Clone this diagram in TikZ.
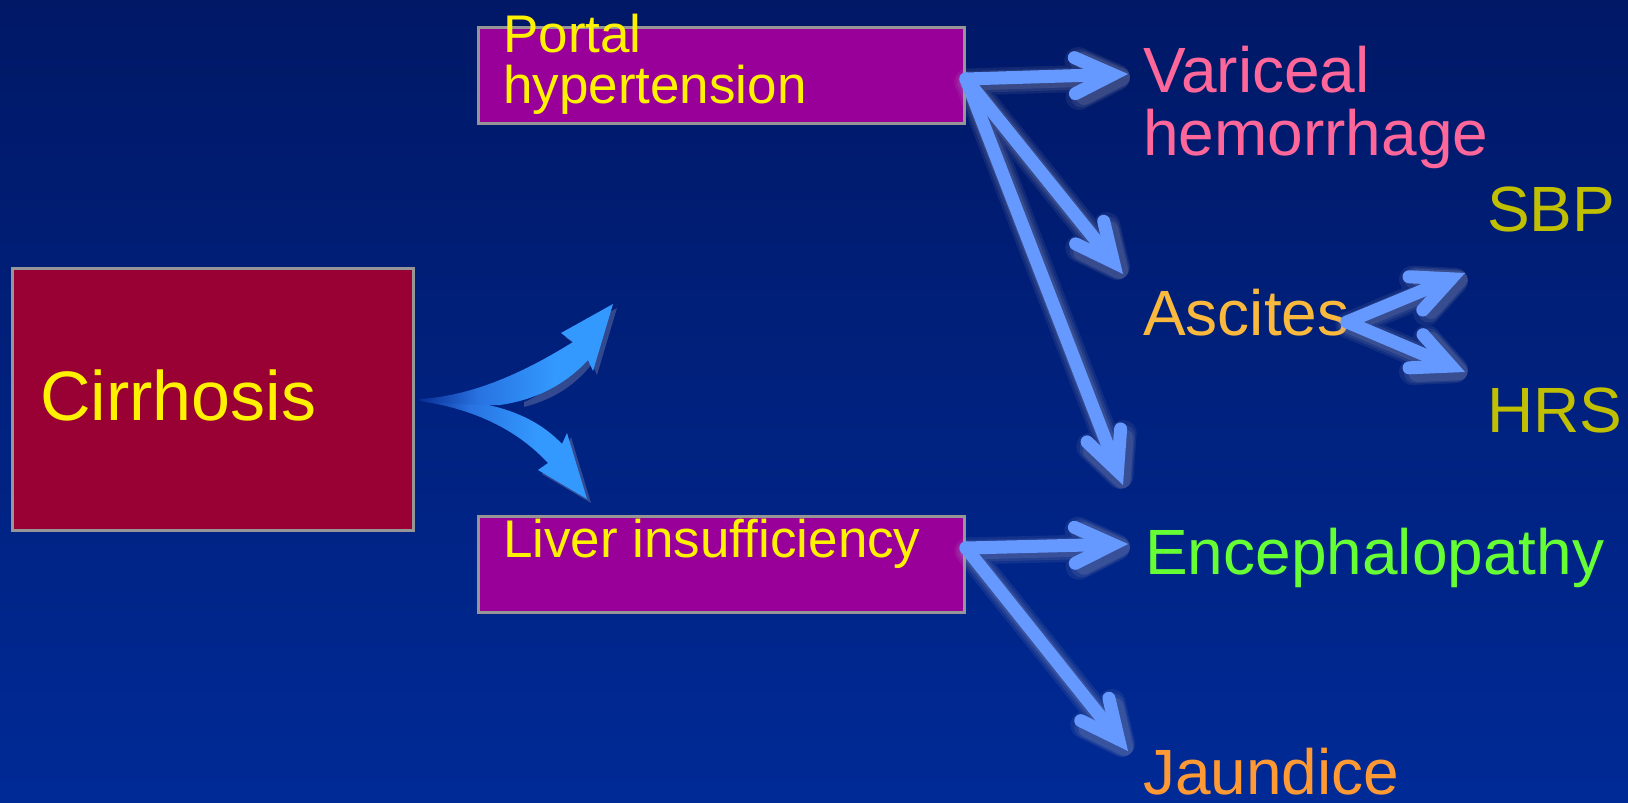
\documentclass[tikz,border=0pt]{standalone}
\usepackage{fontspec}
\setmainfont{Liberation Sans}
\usetikzlibrary{arrows.meta}
\definecolor{bgtop}{RGB}{0,24,102}
\definecolor{bgbot}{RGB}{0,42,150}
\definecolor{cirrfill}{RGB}{153,0,51}
\definecolor{boxfill}{RGB}{153,0,153}
\definecolor{boxline}{RGB}{150,150,150}
\definecolor{arrowblue}{RGB}{102,153,255}
\definecolor{glowc}{RGB}{170,170,190}
\definecolor{curvL}{RGB}{10,45,150}
\definecolor{curvM}{RGB}{40,115,225}
\definecolor{curvR}{RGB}{51,153,255}
\definecolor{varcol}{RGB}{255,102,153}
\definecolor{ascol}{RGB}{250,185,60}
\definecolor{sbpcol}{RGB}{192,192,0}
\definecolor{enccol}{RGB}{102,255,51}
\definecolor{jaucol}{RGB}{255,153,51}
\pgfdeclarehorizontalshading{curvshade}{100bp}{color(0bp)=(curvL); color(25bp)=(curvL); color(40bp)=(curvM); color(60bp)=(curvR); color(100bp)=(curvR)}
\tikzset{
  box/.style={draw=boxline, line width=3pt, inner sep=0pt},
  lbl/.style={anchor=base west, inner sep=0pt, font=\fontsize{53}{51}\selectfont, text=yellow, align=left},
  res/.style={anchor=base west, inner sep=0pt, font=\fontsize{64}{63}\selectfont, align=left},
  link/.style={draw=arrowblue, line width=13pt, line cap=round,
    -{Straight Barb[length=38pt, width=36pt, line width=13pt, line cap=round, line join=miter]}},
  glowlink/.style={draw=glowc, line width=#1, line cap=round,
    -{Straight Barb[length=38pt, width=36pt, line width=#1, line cap=round, line join=round]}},
  curv/.style={shading=curvshade},
  curvglow/.style={fill=glowc, fill opacity=.3, transform canvas={xshift=4pt, yshift=-4pt}},
}
\begin{document}
\begin{tikzpicture}[x=1pt, y=-1pt]
\shade[top color=bgtop, bottom color=bgbot] (0,0) rectangle (1628,803);
\useasboundingbox (0,0) rectangle (1628,803);

% boxes
\node[box, fill=cirrfill, minimum width=401pt, minimum height=262pt] (cirrbox) at (213,399.5) {};
\node[box, fill=boxfill, minimum width=486pt, minimum height=96pt] (portalbox) at (721,75) {};
\node[box, fill=boxfill, minimum width=486pt, minimum height=96pt] (liverbox) at (721,564) {};

% labels
\node[lbl, font=\fontsize{70}{70}\selectfont] (cirr) at (40,420) {Cirrhosis};
\node[lbl] (portal) at (503,103) {Portal\\hypertension};
\node[lbl] (liver) at (503,557) {Liver insufficiency};
\node[res, text=varcol] (var) at (1143,155) {Variceal\\hemorrhage};
\node[res, text=ascol] (asc) at (1143,335) {Ascites};
\node[res, text=sbpcol] (sbp) at (1487,231) {SBP};
\node[res, text=sbpcol] (hrs) at (1487,432) {HRS};
\node[res, text=enccol] (enc) at (1145,574) {Encephalopathy};
\node[res, text=jaucol] (jau) at (1143,794) {Jaundice};

% curved split arrows from Cirrhosis (glow, then body)
\path[curvglow] (480,402) .. controls (515,410) and (540,422) .. (562,444)
  -- (567,433) -- (587,499) -- (538,470) -- (548,463)
  .. controls (525,438) and (505,422) .. (480,413) -- cycle;
\path[curvglow] (520,398) .. controls (545,388) and (565,368) .. (573,342)
  -- (561,333) -- (613,304) -- (593,371) -- (588,360)
  .. controls (570,382) and (550,395) .. (520,403) -- cycle;
\shade[curv] (420,399) .. controls (480,398) and (530,410) .. (562,444)
  -- (567,433) -- (587,499) -- (538,470) -- (548,463)
  .. controls (520,433) and (480,410) .. (420,401) -- cycle;
\shade[curv] (420,399) .. controls (470,396) and (520,375) .. (573,342)
  -- (561,333) -- (613,304) -- (593,371) -- (588,360)
  .. controls (565,385) and (535,400) .. (500,405)
  .. controls (470,406) and (440,402) .. (420,400) -- cycle;

% connector end points
\coordinate (pout) at (966,79);
\coordinate (lout) at (966,548);
\coordinate (aout) at (1347,322);
\coordinate (tvar) at (1128,74);
\coordinate (tasc) at (1123,274);
\coordinate (tenc1) at (1123,485);
\coordinate (tenc2) at (1128,544);
\coordinate (tjau) at (1128,751);
\coordinate (tsbp) at (1465,273);
\coordinate (thrs) at (1465,372);

% soft halo under the connectors
\foreach \w/\o in {27pt/.10, 22pt/.12, 17pt/.16} {
  \begin{scope}[transparency group, opacity=\o, transform canvas={xshift=2pt, yshift=-3pt}]
    \foreach \s/\t in {pout/tvar, pout/tasc, pout/tenc1, lout/tenc2, lout/tjau, aout/tsbp, aout/thrs}
      \draw[glowlink=\w] (\s) -- (\t);
  \end{scope}
}
\draw[link] (pout) -- (tvar);
\draw[link] (pout) -- (tasc);
\draw[link] (pout) -- (tenc1);
\draw[link] (lout) -- (tenc2);
\draw[link] (lout) -- (tjau);
\draw[link] (aout) -- (tsbp);
\draw[link] (aout) -- (thrs);
\end{tikzpicture}
\end{document}
